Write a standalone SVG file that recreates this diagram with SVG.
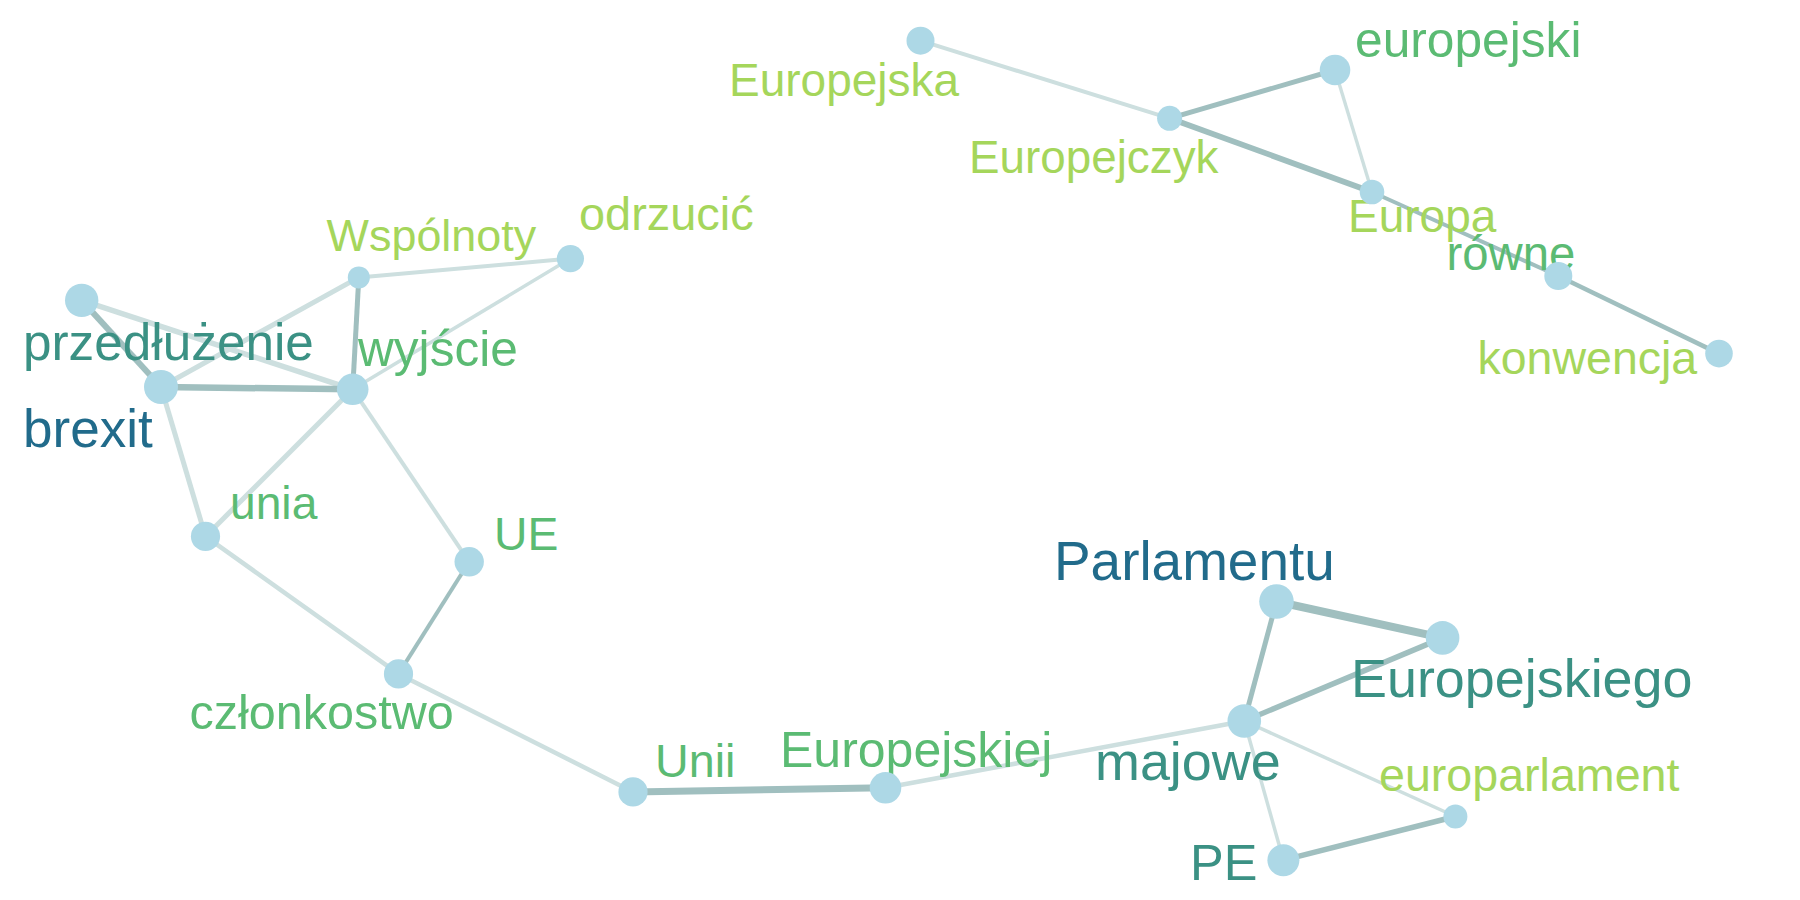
<svg xmlns="http://www.w3.org/2000/svg" width="1800" height="900" viewBox="0 0 1800 900">
<style>
.e{fill:none;stroke-linecap:butt}
.d{stroke:#a0bfbf}
.l{stroke:#cddfdf}
.n{fill:#add8e6}
text{font-family:"Liberation Sans",Arial,sans-serif}
.c1{fill:#a5d65b}
.c2{fill:#5bbb73}
.c3{fill:#3b9184}
.c4{fill:#216b8b}
</style>
<rect width="1800" height="900" fill="#ffffff"/>
<g id="edges">
<line class="e l" x1="920.5" y1="40.7" x2="1169.6" y2="118.3" stroke-width="4"/>
<line class="e d" x1="1169.6" y1="118.3" x2="1335" y2="70" stroke-width="5"/>
<line class="e d" x1="1169.6" y1="118.3" x2="1372" y2="192" stroke-width="5.7"/>
<line class="e l" x1="1335" y1="70" x2="1372" y2="192" stroke-width="3.4"/>
<line class="e d" x1="1372" y1="192" x2="1558.3" y2="276" stroke-width="4"/>
<line class="e d" x1="1558.3" y1="276" x2="1719" y2="353.6" stroke-width="4.5"/>
<line class="e d" x1="81.7" y1="300.4" x2="161" y2="387" stroke-width="6"/>
<line class="e l" x1="81.7" y1="300.4" x2="352.7" y2="389.3" stroke-width="5.5"/>
<line class="e d" x1="161" y1="387" x2="352.7" y2="389.3" stroke-width="6.5"/>
<line class="e l" x1="161" y1="387" x2="358.8" y2="277.4" stroke-width="5"/>
<line class="e d" x1="358.8" y1="277.4" x2="352.7" y2="389.3" stroke-width="5"/>
<line class="e l" x1="358.8" y1="277.4" x2="570.4" y2="258.6" stroke-width="4"/>
<line class="e l" x1="570.4" y1="258.6" x2="352.7" y2="389.3" stroke-width="3.5"/>
<line class="e l" x1="161" y1="387" x2="205.5" y2="536.4" stroke-width="5"/>
<line class="e l" x1="352.7" y1="389.3" x2="205.5" y2="536.4" stroke-width="5"/>
<line class="e l" x1="352.7" y1="389.3" x2="469.2" y2="561.8" stroke-width="4"/>
<line class="e d" x1="469.2" y1="561.8" x2="398.5" y2="673.9" stroke-width="4"/>
<line class="e l" x1="205.5" y1="536.4" x2="398.5" y2="673.9" stroke-width="4.5"/>
<line class="e l" x1="398.5" y1="673.9" x2="633" y2="791.9" stroke-width="4.5"/>
<line class="e d" x1="633" y1="791.9" x2="885.5" y2="787.8" stroke-width="7"/>
<line class="e l" x1="885.5" y1="787.8" x2="1244.3" y2="721" stroke-width="4.5"/>
<line class="e d" x1="1276.5" y1="601.5" x2="1442.6" y2="637.9" stroke-width="8"/>
<line class="e d" x1="1276.5" y1="601.5" x2="1244.3" y2="721" stroke-width="5"/>
<line class="e d" x1="1244.3" y1="721" x2="1442.6" y2="637.9" stroke-width="5.5"/>
<line class="e l" x1="1244.3" y1="721" x2="1455.4" y2="816.5" stroke-width="3.5"/>
<line class="e l" x1="1244.3" y1="721" x2="1283.4" y2="860.2" stroke-width="3.5"/>
<line class="e d" x1="1283.4" y1="860.2" x2="1455.4" y2="816.5" stroke-width="5.5"/>
</g>
<g id="n-Europejska"><text class="c1" x="729" y="96" font-size="46">Europejska</text><circle class="n" cx="920.5" cy="40.7" r="14"/></g>
<g id="n-Europejczyk"><text class="c1" x="969" y="172.5" font-size="45.8">Europejczyk</text><circle class="n" cx="1169.6" cy="118.3" r="12.5"/></g>
<g id="n-europejski"><text class="c2" x="1355" y="57.4" font-size="49.7">europejski</text><circle class="n" cx="1335" cy="70" r="15.3"/></g>
<g id="n-Europa"><text class="c1" x="1348" y="231.8" font-size="46">Europa</text><circle class="n" cx="1372" cy="192" r="12.3"/></g>
<g id="n-rowne"><text class="c2" x="1446.5" y="269.7" font-size="47.3">równe</text><circle class="n" cx="1558.3" cy="276" r="14"/></g>
<g id="n-konwencja"><text class="c1" x="1477.5" y="374.3" font-size="46.5">konwencja</text><circle class="n" cx="1719" cy="353.6" r="13.8"/></g>
<g id="n-Wspolnoty"><text class="c1" x="326.6" y="250.7" font-size="44.9">Wspólnoty</text><circle class="n" cx="358.8" cy="277.4" r="11"/></g>
<g id="n-odrzucic"><text class="c1" x="579" y="230" font-size="46.9">odrzucić</text><circle class="n" cx="570.4" cy="258.6" r="13.6"/></g>
<g id="n-przedluzenie"><text class="c3" x="23" y="360" font-size="51.3">przedłużenie</text><circle class="n" cx="81.7" cy="300.4" r="16.7"/></g>
<g id="n-brexit"><text class="c4" x="23" y="446.8" font-size="53.1">brexit</text><circle class="n" cx="161" cy="387" r="17"/></g>
<g id="n-wyjscie"><text class="c2" x="358" y="366.3" font-size="49.6">wyjście</text><circle class="n" cx="352.7" cy="389.3" r="15.8"/></g>
<g id="n-unia"><text class="c2" x="230" y="519.3" font-size="46.2">unia</text><circle class="n" cx="205.5" cy="536.4" r="14.6"/></g>
<g id="n-UE"><text class="c2" x="494" y="549.7" font-size="46.3">UE</text><circle class="n" cx="469.2" cy="561.8" r="14.7"/></g>
<g id="n-czlonkostwo"><text class="c2" x="189.5" y="728.6" font-size="48.5">członkostwo</text><circle class="n" cx="398.5" cy="673.9" r="14.6"/></g>
<g id="n-Unii"><text class="c2" x="655" y="777.4" font-size="46.7">Unii</text><circle class="n" cx="633" cy="791.9" r="14.6"/></g>
<g id="n-Europejskiej"><text class="c2" x="780" y="767" font-size="50">Europejskiej</text><circle class="n" cx="885.5" cy="787.8" r="15.8"/></g>
<g id="n-Parlamentu"><text class="c4" x="1054" y="579.6" font-size="54.9">Parlamentu</text><circle class="n" cx="1276.5" cy="601.5" r="17.3"/></g>
<g id="n-Europejskiego"><text class="c3" x="1351" y="696.9" font-size="53.9">Europejskiego</text><circle class="n" cx="1442.6" cy="637.9" r="16.8"/></g>
<g id="n-majowe"><text class="c3" x="1095" y="779.7" font-size="53.9">majowe</text><circle class="n" cx="1244.3" cy="721" r="16.8"/></g>
<g id="n-europarlament"><text class="c1" x="1379" y="791.2" font-size="46.6">europarlament</text><circle class="n" cx="1455.4" cy="816.5" r="12"/></g>
<g id="n-PE"><text class="c3" x="1190" y="879.8" font-size="50.5">PE</text><circle class="n" cx="1283.4" cy="860.2" r="16"/></g>
</svg>
